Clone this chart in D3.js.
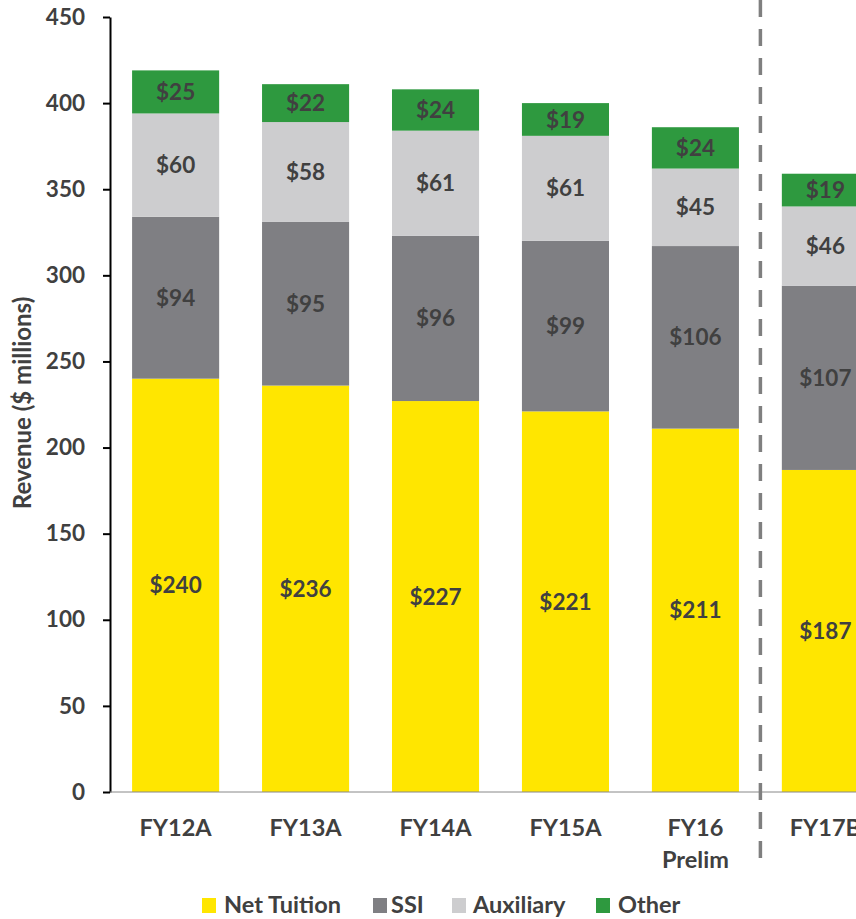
<!DOCTYPE html>
<html>
<head>
<meta charset="utf-8">
<script src="https://cdn.jsdelivr.net/npm/d3@7"></script>
<style>
  html, body { margin: 0; padding: 0; background: #fff; }
  svg { display: block; font-family: Lato, "Open Sans", sans-serif; }
</style>
</head>
<body>
<svg id="chart" width="856" height="919"></svg>
<script>
// Revenue by source, $ millions
const years = ["FY12A", "FY13A", "FY14A", "FY15A", "FY16 Prelim", "FY17B"];
const netTuition = [240, 236, 227, 221, 211, 187];
const ssi        = [94, 95, 96, 99, 106, 107];
const auxiliary  = [60, 58, 61, 61, 45, 46];
const other      = [25, 22, 24, 19, 24, 19];
const seriesNames = ["Net Tuition", "SSI", "Auxiliary", "Other"];
const yTicks = [0, 50, 100, 150, 200, 250, 300, 350, 400, 450];

const colors = ["#FFE600", "#7F7F83", "#CDCDCF", "#2E993F"];
const textColor = "#404040";

const svg = d3.select("#chart");

const x = d3.scaleBand()
  .domain(years)
  .range([110, 891])
  .paddingInner(0.33)
  .paddingOuter(0.17);

const y = d3.scaleLinear().domain([0, 450]).range([792, 17]);

const rows = years.map((yr, i) => ({
  year: yr,
  "Net Tuition": netTuition[i],
  "SSI": ssi[i],
  "Auxiliary": auxiliary[i],
  "Other": other[i]
}));

const stacked = d3.stack().keys(seriesNames)(rows);

// stacked bars
const layers = svg.append("g").selectAll("g")
  .data(stacked)
  .join("g")
  .attr("fill", (d, i) => colors[i]);

layers.selectAll("rect")
  .data(d => d)
  .join("rect")
  .attr("x", d => x(d.data.year))
  .attr("width", x.bandwidth())
  .attr("y", d => y(d[1]))
  .attr("height", d => y(d[0]) - y(d[1]));

// segment value labels
layers.selectAll("text")
  .data(d => d.map(v => ({ v, key: d.key })))
  .join("text")
  .attr("x", d => x(d.v.data.year) + x.bandwidth() / 2)
  .attr("y", d => (y(d.v[0]) + y(d.v[1])) / 2)
  .attr("dy", "0.36em")
  .attr("text-anchor", "middle")
  .attr("fill", textColor)
  .attr("font-weight", 700)
  .attr("font-size", 22.5)
  .text(d => "$" + (d.v[1] - d.v[0]));

// y axis
const yAxis = svg.append("g")
  .attr("transform", "translate(110,0)")
  .call(d3.axisLeft(y).tickValues(yTicks).tickSize(7).tickPadding(18).tickSizeOuter(0));
yAxis.select(".domain").attr("stroke", "#000").attr("stroke-width", 2);
yAxis.selectAll(".tick line").attr("stroke", "#000").attr("stroke-width", 2);
yAxis.selectAll(".tick text")
  .attr("fill", textColor)
  .attr("font-size", 22.5)
  .attr("font-weight", 700)
  .attr("font-family", "Lato, sans-serif");

// baseline
svg.append("line")
  .attr("x1", 110).attr("x2", 856)
  .attr("y1", y(0)).attr("y2", y(0))
  .attr("stroke", "#888").attr("stroke-width", 1);

// y axis title
svg.append("text")
  .attr("transform", `translate(31,403) rotate(-90)`)
  .attr("text-anchor", "middle")
  .attr("fill", textColor)
  .attr("font-size", 24)
  .attr("font-weight", 700)
  .text("Revenue ($ millions)");

// x category labels
const xl = svg.append("g").selectAll("text")
  .data(years)
  .join("text")
  .attr("x", d => x(d) + x.bandwidth() / 2)
  .attr("y", 836)
  .attr("text-anchor", "middle")
  .attr("fill", textColor)
  .attr("font-size", 23.5)
  .attr("font-weight", 700);
xl.each(function (d) {
  const parts = d.split(" ");
  const t = d3.select(this);
  parts.forEach((p, i) => {
    t.append("tspan")
      .attr("x", x(d) + x.bandwidth() / 2)
      .attr("dy", i === 0 ? 0 : 32)
      .text(p);
  });
});

// divider between actuals and budget
const divX = (x(years[4]) + x.bandwidth() + x(years[5])) / 2;
svg.append("line")
  .attr("x1", divX).attr("x2", divX)
  .attr("y1", 0).attr("y2", 860)
  .attr("stroke", "#7F7F7F")
  .attr("stroke-width", 3.5)
  .attr("stroke-dasharray", "17 12");

// legend
const legendItems = [
  { name: "Net Tuition", sx: 202, tx: 224 },
  { name: "SSI", sx: 373, tx: 391 },
  { name: "Auxiliary", sx: 452, tx: 473 },
  { name: "Other", sx: 596, tx: 618 }
];
const lg = svg.append("g").selectAll("g")
  .data(legendItems)
  .join("g");
lg.append("rect")
  .attr("x", d => d.sx).attr("y", 898)
  .attr("width", 14).attr("height", 15)
  .attr("fill", (d, i) => colors[i]);
lg.append("text")
  .attr("x", d => d.tx).attr("y", 913)
  .attr("fill", textColor)
  .attr("font-size", 23.5)
  .attr("font-weight", 700)
  .text(d => d.name);
</script>
</body>
</html>
